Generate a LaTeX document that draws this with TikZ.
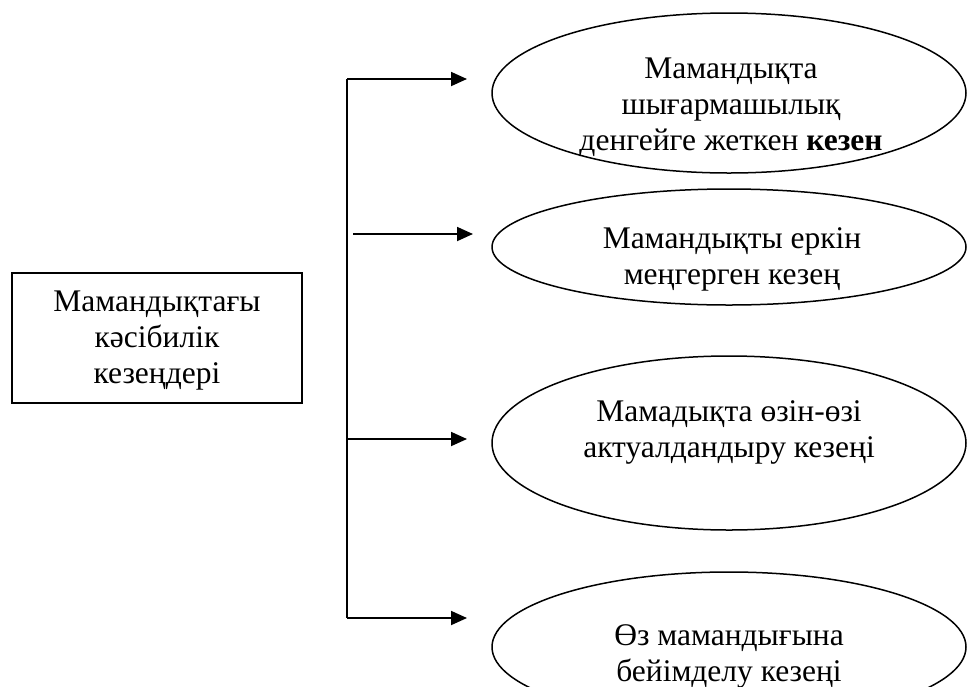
\documentclass[tikz,border=0pt]{standalone}
\usepackage{fontspec}
\setmainfont{Liberation Serif}
\usetikzlibrary{shapes.geometric,arrows.meta}
\begin{document}
\begin{tikzpicture}[x=1pt,y=-1pt,
  oval/.style={draw,ellipse,line width=1.5pt,minimum width=474pt,inner sep=0pt},
  txt/.style={align=center,font=\fontsize{31.5pt}{36pt}\selectfont},
  conn/.style={line width=1.8pt},
  arr/.style={line width=1.8pt,-{Triangle[length=16pt,width=14pt]}}]
\useasboundingbox (0,0) rectangle (967,686);
% left box
\node[draw,line width=1.8pt,minimum width=290pt,minimum height=130pt,inner sep=0pt] (box) at (157,338) {};
\node[txt] (boxt) at (157,341) {Мамандықтағы\\кәсiбилiк\\кезеңдерi};
% ellipses
\node[oval,minimum height=160pt] (e1) at (729,93) {};
\node[txt] (t1) at (731,107) {Мамандықта\\шығармашылық\\денгейге жеткен \textbf{кезен}};
\node[oval,minimum height=116pt] (e2) at (729,247) {};
\node[txt] (t2) at (732,259) {Мамандықты еркін\\меңгерген кезең};
\node[oval,minimum height=174pt] (e3) at (729,443) {};
\node[txt] (t3) at (729,432) {Мамадықта өзін-өзі\\актуалдандыру кезеңі};
\node[oval,minimum height=150pt] (e4) at (729,647) {};
\node[txt] (t4) at (729,656) {Өз мамандығына\\бейімделу кезеңі};
% connectors
\coordinate (vtop) at (347,79);
\coordinate (vb3) at (347,439);
\coordinate (vbot) at (347,618);
\coordinate (a1) at (467,79);
\coordinate (s2) at (353,234);
\coordinate (a2) at (473,234);
\coordinate (a3) at (467,439);
\coordinate (a4) at (467,618);
\draw[conn] (vtop) -- (vbot);
\draw[arr] (vtop) -- (a1);
\draw[arr] (s2) -- (a2);
\draw[arr] (vb3) -- (a3);
\draw[arr] (vbot) -- (a4);
\end{tikzpicture}
\end{document}
